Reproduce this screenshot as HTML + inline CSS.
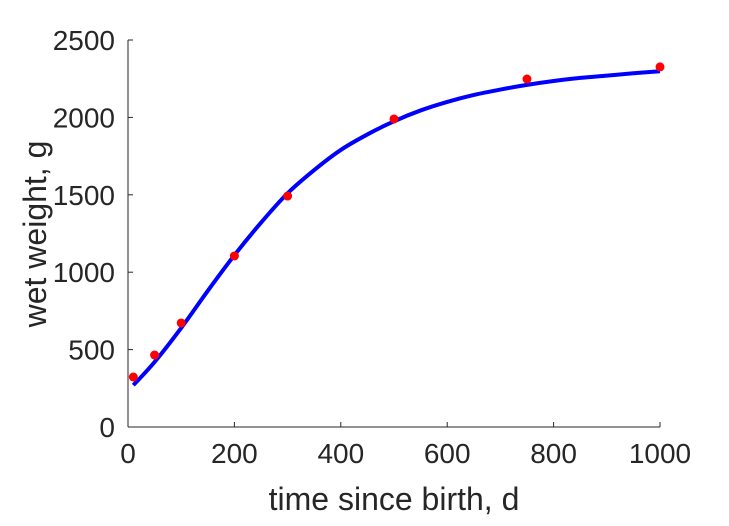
<!DOCTYPE html>
<html><head><meta charset="utf-8"><style>
html,body{margin:0;padding:0;background:#fff;}
svg text{font-family:"Liberation Sans",Arial,sans-serif;fill:#262626;}
</style></head><body>
<svg id="chart" width="729" height="521" viewBox="0 0 729 521">
<g id="axes"></g>
<g id="marks"></g>
<text x="394" y="510" font-size="32" text-anchor="middle">time since birth, d</text>
<text transform="translate(46,234) rotate(-90)" font-size="32" text-anchor="middle">wet weight, g</text>
</svg>
<script>
const xTicks=[0,200,400,600,800,1000];
const yTicks=[0,500,1000,1500,2000,2500];
const obsX=[10,50,100,200,300,500,750,1000];
const obsY=[323,465,672,1105,1492,1990,2248,2326];
const fitX=[10,50,100,150,200,250,300,350,400,450,500,550,600,650,700,750,800,850,900,950,1000];
const fitY=[270,420,640,880,1110,1320,1510,1660,1790,1890,1975,2045,2100,2145,2180,2210,2235,2255,2270,2285,2298];
const X0=128,X1=660,Y0=427,Y1=40;
const sx=v=>X0+(v-0)/(1000-0)*(X1-X0);
const sy=v=>Y0-(v-0)/(2500-0)*(Y0-Y1);
const NS="http://www.w3.org/2000/svg";
const axes=document.getElementById('axes'),marks=document.getElementById('marks');
function mk(t,a,p){const e=document.createElementNS(NS,t);for(const k in a)e.setAttribute(k,a[k]);p.appendChild(e);return e;}
let xl=mk('line',{x1:X0,y1:Y0,x2:X1,y2:Y0,stroke:'#262626','stroke-width':1},axes);


let yl=mk('line',{x1:X0,y1:Y0,x2:X0,y2:Y1,stroke:'#262626','stroke-width':1},axes);


xTicks.forEach(v=>{
 const t=mk('line',{x1:sx(v),y1:Y0,x2:sx(v),y2:Y0-5,stroke:'#262626'},axes);
 
 
 const l=mk('text',{x:sx(v),y:Y0+36,'font-size':28,'text-anchor':'middle'},axes);l.textContent=v;
 
 
});
yTicks.forEach(v=>{
 const t=mk('line',{x1:X0,y1:sy(v),x2:X0+5,y2:sy(v),stroke:'#262626'},axes);
 
 
 const l=mk('text',{x:X0-13,y:sy(v)+10,'font-size':28,'text-anchor':'end'},axes);l.textContent=v;
 
 
});
// smooth Catmull-Rom path through fit points
const P=fitX.map((x,i)=>[sx(x),sy(fitY[i])]);
let d='M'+P[0][0]+','+P[0][1];
for(let i=0;i<P.length-1;i++){
 const p0=P[Math.max(i-1,0)],p1=P[i],p2=P[i+1],p3=P[Math.min(i+2,P.length-1)];
 const c1=[p1[0]+(p2[0]-p0[0])/6,p1[1]+(p2[1]-p0[1])/6];
 const c2=[p2[0]-(p3[0]-p1[0])/6,p2[1]-(p3[1]-p1[1])/6];
 d+=' C'+c1[0]+','+c1[1]+' '+c2[0]+','+c2[1]+' '+p2[0]+','+p2[1];
}
const pl=mk('path',{d:d,fill:'none',stroke:'#0000ff','stroke-width':4,'stroke-linejoin':'round'},marks);


obsX.forEach((x,i)=>{
 const c=mk('circle',{cx:sx(x),cy:sy(obsY[i]),r:4.5,fill:'#ff0000'},marks);
 
 
});
</script>
</body></html>
